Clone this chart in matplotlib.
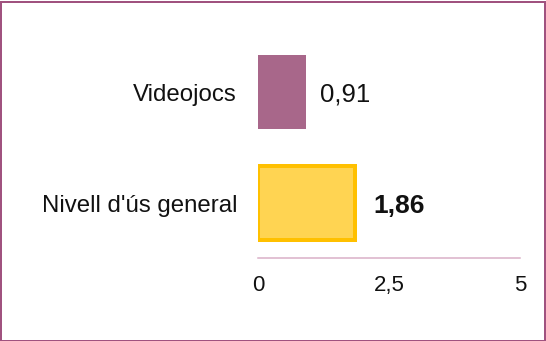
import matplotlib
matplotlib.use("Agg")
import matplotlib.pyplot as plt
from matplotlib.patches import Rectangle

categories = ["Nivell d'ús general", "Videojocs"]
values = [1.86, 0.91]
tick_values = [0, 2.5, 5]
tick_labels = ["0", "2,5", "5"]
value_labels = ["1,86", "0,91"]

plt.rcParams['font.family'] = ['Liberation Sans', 'DejaVu Sans']

W, H, DPI = 546, 341, 100
fig = plt.figure(figsize=(W / DPI, H / DPI), dpi=DPI)
fig.patch.set_facecolor("white")

# axes placed in pixel terms: x range 258..520, y range 36.5..258 (from top)
left, right = 258, 520
top, bottom = 36.5, 258
ax = fig.add_axes([left / W, (H - bottom) / H, (right - left) / W, (bottom - top) / H])

ypos = [0, 1]
bar_h = 0.667
px = 72 / DPI  # points per pixel
dy = -2.5 * px  # nudge text so glyphs sit centred on the bars

# general level bar, highlighted with a gold outline
ax.barh(ypos[0], values[0], height=bar_h, color="#ffd452",
        edgecolor="#ffc000", linewidth=4 * px, zorder=3)
ax.barh(ypos[1], values[1], height=bar_h, color="#a8678a",
        linewidth=0, zorder=3)

ax.set_xlim(0, 5)
ax.set_ylim(-0.495, 1.5)

# value labels next to bars
ax.annotate(value_labels[0], xy=(values[0], ypos[0]), xytext=(17.5 * px, dy),
            textcoords="offset points", ha="left", va="center",
            fontsize=19, fontweight="bold", color="#111111")
ax.annotate(value_labels[1], xy=(values[1], ypos[1]), xytext=(14 * px, dy),
            textcoords="offset points", ha="left", va="center",
            fontsize=18.5, color="#111111")

# category labels to the left of the axes
for y, name in zip(ypos, categories):
    ax.annotate(name, xy=(0, y), xycoords=("axes fraction", "data"),
                xytext=(-21 * px, dy), textcoords="offset points",
                ha="right", va="center", fontsize=17.3, color="#111111")

ax.set_xticks(tick_values)
ax.set_xticklabels(tick_labels, fontsize=16, color="#111111")
ax.tick_params(axis="x", length=0, pad=12)
ax.set_yticks([])

for s in ["top", "right", "left"]:
    ax.spines[s].set_visible(False)
ax.spines["bottom"].set_color("#d9aec6")
ax.spines["bottom"].set_linewidth(1.5 * px)

# outer frame around the whole figure
fig.patches.append(Rectangle((0.5 / W, 0.5 / H), (W - 2) / W, (H - 2) / H,
                             transform=fig.transFigure, fill=False,
                             edgecolor="#a0527f", linewidth=2 * px))

fig.savefig("out.png", dpi=DPI, facecolor="white")
